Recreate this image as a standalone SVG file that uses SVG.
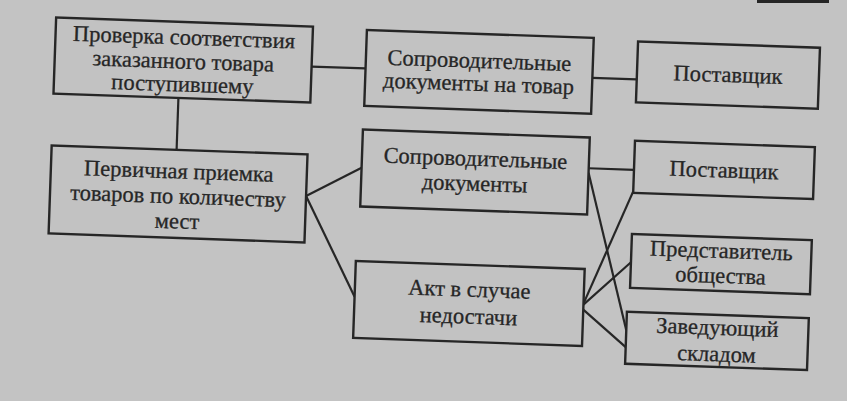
<svg xmlns="http://www.w3.org/2000/svg" width="847" height="401" viewBox="0 0 847 401">
<style>
.bx{fill:#c2c2c2;stroke:#262626;stroke-width:2.4}
.t{font-family:'Liberation Serif','Times New Roman',serif;font-size:22.5px;fill:#262626;stroke:#262626;stroke-width:0.3;text-anchor:middle}
.c line{stroke:#262626;stroke-width:2.2}
</style>
<rect x="0" y="0" width="847" height="401" fill="#c3c3c3"/>
<rect x="757" y="0" width="72" height="3" fill="#262626"/>
<g transform="rotate(2 423 200)">
<g class="c" id="connectors">
<line x1="307" y1="70.5" x2="361" y2="70.5"/>
<line x1="175" y1="106.5" x2="175" y2="158.5"/>
<line x1="588" y1="72" x2="632.4" y2="72"/>
<line x1="306" y1="200" x2="360.5" y2="170"/>
<line x1="306" y1="200" x2="358" y2="299"/>
<line x1="587.5" y1="162.5" x2="632.8" y2="162.5"/>
<line x1="587.5" y1="167" x2="630.7" y2="323"/>
<line x1="632.8" y1="184" x2="587" y2="298"/>
<line x1="587" y1="299" x2="633" y2="255"/>
<line x1="587" y1="304" x2="630.7" y2="340"/>
</g>
<g id="n1">
<rect class="bx" x="50" y="30.5" width="257" height="76"/>
<text class="t" x="178.5" y="53">Проверка соответствия</text>
<text class="t" x="178.5" y="77">заказанного товара</text>
<text class="t" x="178.5" y="100">поступившему</text>
</g>
<g id="n2">
<rect class="bx" x="50" y="158.5" width="256" height="88"/>
<text class="t" x="178" y="187">Первичная приемка</text>
<text class="t" x="178" y="212">товаров по количеству</text>
<text class="t" x="178" y="237">мест</text>
</g>
<g id="n3">
<rect class="bx" x="361" y="32" width="227" height="76"/>
<text class="t" x="474.5" y="66">Сопроводительные</text>
<text class="t" x="474.5" y="89">документы на товар</text>
</g>
<g id="n4">
<rect class="bx" x="632.4" y="34" width="182" height="61"/>
<text class="t" x="723.4" y="71.5">Поставщик</text>
</g>
<g id="n5">
<rect class="bx" x="360.5" y="131.7" width="227" height="77"/>
<text class="t" x="474" y="164">Сопроводительные</text>
<text class="t" x="474" y="189">документы</text>
</g>
<g id="n6">
<rect class="bx" x="632.8" y="133.5" width="180" height="52"/>
<text class="t" x="722.8" y="167">Поставщик</text>
</g>
<g id="n7">
<rect class="bx" x="358" y="263.3" width="229" height="77"/>
<text class="t" x="472.5" y="295">Акт в случае</text>
<text class="t" x="472.5" y="322">недостачи</text>
</g>
<g id="n8">
<rect class="bx" x="633" y="226.6" width="180" height="54"/>
<text class="t" x="723" y="247.5">Представитель</text>
<text class="t" x="723" y="272.5">общества</text>
</g>
<g id="n9">
<rect class="bx" x="630.7" y="304.6" width="182" height="52"/>
<text class="t" x="721.7" y="324.5">Заведующий</text>
<text class="t" x="721.7" y="351">складом</text>
</g>
</g>
</svg>
